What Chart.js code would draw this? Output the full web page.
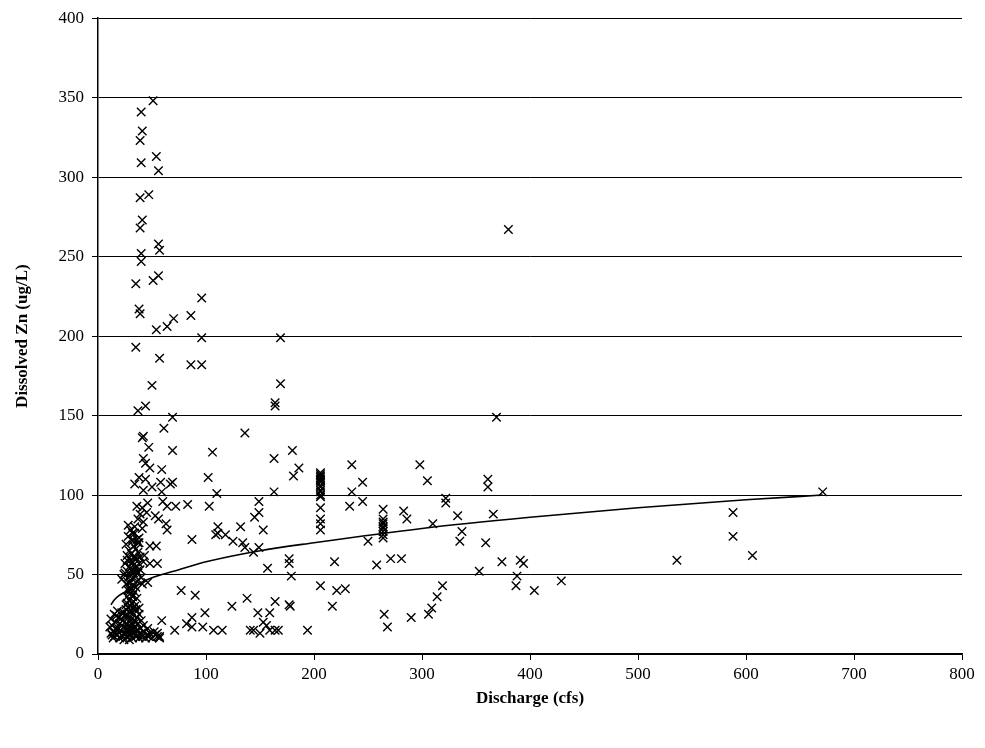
<!DOCTYPE html>
<html>
<head>
<meta charset="utf-8">
<title>Dissolved Zn vs Discharge</title>
<script src="https://cdn.jsdelivr.net/npm/chart.js@4/dist/chart.umd.min.js"></script>
<style>
  html, body { margin: 0; padding: 0; background: #fff; }
  #wrap { width: 985px; height: 748px; }
</style>
</head>
<body>
<div id="wrap"><canvas id="znChart" width="985" height="748"></canvas></div>
<script>
// samples: [discharge cfs, dissolved Zn ug/L]
const highSpikes = [
  [51,348],[40,341],[41,329],[39,323],[40,309],[54,313],[56,304],[39,287],[47,289],
  [41,273],[39,268],[56,258],[57,254],[40,252],[40,247],[35,233],[51,235],[56,238],
  [38,217],[39,214],[96,224],[54,204],[64,206],[70,211],[86,213],[96,199],[35,193],
  [57,186],[86,182],[96,182],[50,169],[44,156],[37,153],[69,149],[61,142],[42,137],[41,136]
];

const lowFlowMid = [
  [47,130],[69,128],[106,127],[42,123],[44,120],[48,117],[59,116],[38,111],[44,110],
  [58,108],[69,108],[102,111],[50,105],[42,103],[59,102],[110,101],[36,93],[41,92],
  [46,95],[64,93],[72,93],[83,94],[103,93],[39,88],[45,89],[53,87],[56,85],[37,85],
  [42,83],[63,82],[28,81],[34,80],[64,78],[41,79],[32,76],[38,73],[32,72],[37,70],
  [48,68],[54,68],[87,72],[109,75],[27,59],[34,60],[39,61],[48,57],[55,57],[25,51],
  [32,53],[37,51],[46,45],[28,45],[30,40],[32,36],[27,32],[38,29],[77,40],[90,37],
  [59,21],[71,15],[82,19],[87,23],[99,26],[87,17],[97,17],[107,15],[55,13],[48,13],
  [57,11],[34,107],[67,107],[60,96]
];

const lowFlowColumn = [
  [30,78],[34,76],[28,74],[36,72],[32,71],[38,70],[26,69],[33,68],[35,66],[29,65],
  [37,64],[31,63],[27,62],[34,61],[36,60],[30,59],[32,58],[38,57],[25,57],[33,56],
  [29,55],[35,54],[31,53],[27,52],[36,52],[33,51],[30,50],[34,49],[28,48],[32,47],
  [36,46],[30,45],[26,44],[33,43],[29,42],[35,42],[31,41],[28,40],[34,39],[30,38],
  [32,37],[27,36],[36,35],[29,34],[33,33],[31,32],[26,31],[34,30],[30,30],[28,29],
  [32,29],[41,44],[40,48],[39,53],[42,58],[43,62],[24,50],[22,47]
];

const lowFlowBase = [
  [12,22],[13,18],[14,14],[15,11],[15,25],[16,20],[17,16],[18,12],[18,27],[19,23],
  [20,19],[20,10],[21,15],[22,26],[22,12],[23,21],[24,17],[24,9],[25,24],[25,13],
  [26,28],[26,19],[27,11],[27,16],[28,23],[28,14],[29,9],[29,20],[30,26],[30,17],
  [30,12],[31,22],[31,15],[32,10],[32,19],[33,25],[33,13],[34,17],[34,21],[35,11],
  [35,28],[36,15],[36,23],[37,19],[37,12],[38,10],[38,25],[39,16],[40,13],[40,21],
  [41,11],[42,18],[43,14],[44,10],[45,12],[46,16],[47,11],[48,13],[50,10],[52,14],
  [53,12],[55,11],[57,10],[14,10],[16,13],[19,16],[21,22],[23,11],[17,24],[13,12],
  [11,17],[12,13],[25,16],[27,25],[29,12],[31,27],[33,16],[35,20],[22,18],[24,26]
];

const midFlow = [
  [136,139],[169,199],[169,170],[164,158],[164,156],[163,123],[186,117],[181,112],
  [180,128],[163,102],[149,96],[149,89],[145,86],[132,80],[111,80],[111,76],[118,75],
  [125,71],[134,70],[136,67],[144,64],[149,67],[153,78],[157,54],[177,60],[177,57],
  [179,49],[206,114],[206,113],[206,112],[206,111],[206,110],[206,109],[206,108],
  [206,106],[206,105],[206,103],[206,102],[206,100],[206,99],[206,92],[206,85],
  [206,82],[206,78],[206,43],[138,35],[124,30],[164,33],[177,31],[178,30],[148,26],
  [159,26],[153,20],[141,15],[144,15],[150,13],[156,18],[159,15],[164,15],[167,15],
  [115,15],[194,15],[219,58],[217,30],[221,40],[229,41]
];

const highFlow = [
  [235,119],[245,108],[235,102],[233,93],[245,96],[250,71],[264,91],[264,85],[264,83],
  [264,82],[264,80],[264,79],[264,77],[264,75],[264,73],[258,56],[271,60],[281,60],
  [283,90],[286,85],[265,25],[268,17],[290,23],[306,25],[309,29],[314,36],[319,43],
  [298,119],[305,109],[310,82],[322,98],[322,95],[333,87],[337,77],[335,71],[353,52],
  [359,70],[361,110],[361,105],[366,88],[369,149],[374,58],[391,59],[394,57],[388,49],
  [387,43],[404,40],[429,46],[380,267],[536,59],[588,89],[588,74],[606,62],[671,102]
];

// fitted curve
const trendX = [12, 15, 20, 25, 30, 40, 50, 70, 100, 150, 200, 300, 400, 500, 600, 671];
const trendY = [31, 34, 37, 39, 41, 45, 48, 52, 58, 65, 70, 79, 86, 92, 97, 100];

const xTicks = { min: 0, max: 800, step: 100 };
const yTicks = { min: 0, max: 400, step: 50 };

const serif = "'Liberation Serif', 'Times New Roman', serif";

const samples = []
  .concat(highSpikes, lowFlowMid, lowFlowColumn, lowFlowBase, midFlow, highFlow)
  .map(([x, y]) => ({ x, y }));

const trend = trendX.map((x, i) => ({ x, y: trendY[i] }));

const config = {
  type: "scatter",
  data: {
    datasets: [
      {
        label: "Dissolved Zn",
        data: samples,
        pointStyle: "crossRot",
        pointRadius: 6,
        pointBorderWidth: 1.4,
        borderColor: "#000",
        backgroundColor: "#000",
        showLine: false,
      },
      {
        label: "Trend",
        data: trend,
        showLine: true,
        pointRadius: 0,
        borderColor: "#000",
        borderWidth: 1.6,
        cubicInterpolationMode: "monotone",
        fill: false,
      },
    ],
  },
  options: {
    responsive: false,
    animation: false,
    layout: { padding: { top: 16, right: 23, left: 0, bottom: 0 } },
    plugins: {
      legend: { display: false },
      tooltip: { enabled: false },
    },
    scales: {
      x: {
        type: "linear",
        min: xTicks.min,
        max: xTicks.max,
        ticks: {
          stepSize: xTicks.step,
          color: "#000",
          font: { family: serif, size: 17 },
          padding: 4,
        },
        grid: {
          drawOnChartArea: false,
          drawTicks: true,
          tickLength: 6,
          tickColor: "#000",
        },
        border: { color: "#000", width: 1.5 },
        title: {
          display: true,
          text: "Discharge (cfs)",
          color: "#000",
          font: { family: serif, size: 17, weight: "bold" },
          padding: { bottom: 39 },
        },
        afterFit: (scale) => {
          scale.height = 94;
        },
      },
      y: {
        min: yTicks.min,
        max: yTicks.max,
        ticks: {
          stepSize: yTicks.step,
          color: "#000",
          font: { family: serif, size: 17 },
          padding: 8,
        },
        grid: {
          color: "#000",
          lineWidth: 1,
          tickLength: 6,
          tickColor: "#000",
        },
        border: { color: "#000", width: 1.5 },
        title: {
          display: true,
          text: "Dissolved Zn (ug/L)",
          color: "#000",
          font: { family: serif, size: 17, weight: "bold" },
          padding: { top: 12 },
        },
        afterFit: (scale) => {
          scale.width = 98;
        },
      },
    },
  },
};

new Chart(document.getElementById("znChart").getContext("2d"), config);
</script>
</body>
</html>
